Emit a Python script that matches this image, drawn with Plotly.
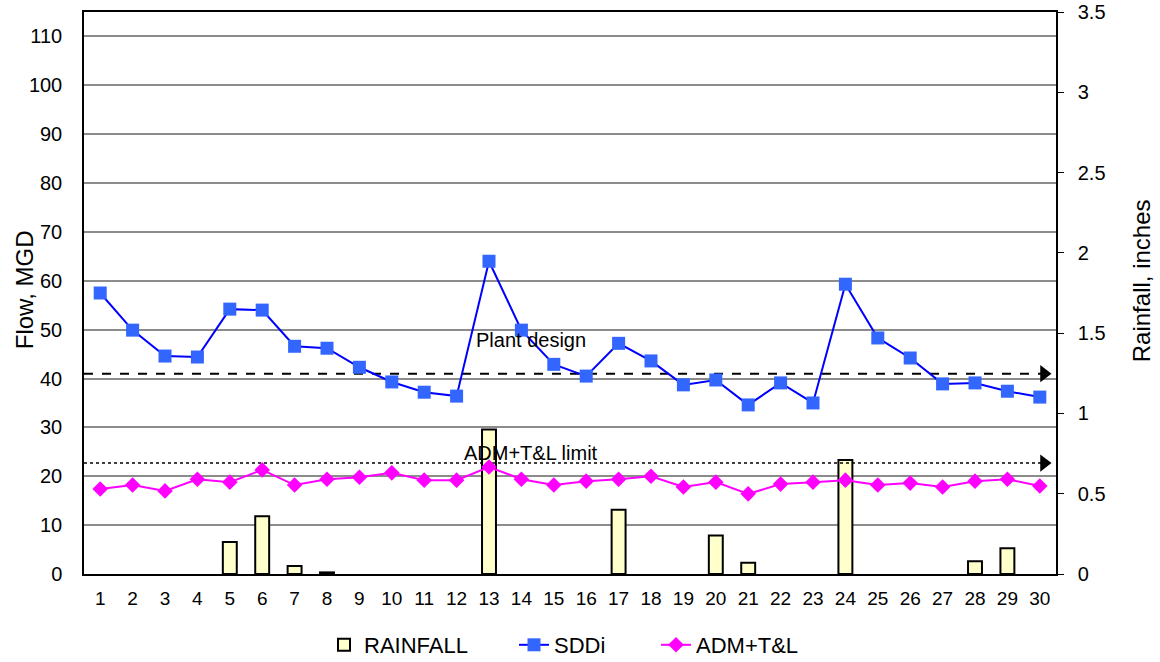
import plotly.graph_objects as go

days = list(range(1, 31))
sddi = [57.5, 49.9, 44.6, 44.4, 54.2, 54.0, 46.6, 46.2, 42.3, 39.3,
        37.2, 36.4, 64.0, 49.9, 42.9, 40.5, 47.2, 43.6, 38.7, 39.7,
        34.6, 39.1, 35.0, 59.3, 48.3, 44.2, 38.9, 39.1, 37.4, 36.2]
adm_tl = [17.4, 18.2, 17.0, 19.4, 18.8, 21.3, 18.2, 19.4, 19.8, 20.7,
          19.2, 19.2, 21.9, 19.4, 18.2, 19.0, 19.4, 20.0, 17.8, 18.8,
          16.4, 18.4, 18.8, 19.2, 18.2, 18.6, 17.8, 19.0, 19.4, 18.0]
rainfall = [0, 0, 0, 0, 0.20, 0.36, 0.05, 0.01, 0, 0,
            0, 0, 0.90, 0, 0, 0, 0.40, 0, 0, 0.24,
            0.07, 0, 0, 0.71, 0, 0, 0, 0.08, 0.16, 0]
plant_design = 41.0
adm_limit = 22.7
ref_x = [0.5, 30.05]
arrow_x = 30.13

FONT = "Liberation Sans, Arial, sans-serif"

fig = go.Figure()

fig.add_trace(go.Bar(
    x=days, y=[r if r > 0 else None for r in rainfall], name="RAINFALL", yaxis="y",
    width=0.43, legendwidth=145,
    marker=dict(color="#FFFFCC", line=dict(color="black", width=2)),
))

fig.add_trace(go.Scatter(
    x=ref_x, y=[plant_design] * 2, mode="lines", yaxis="y2", showlegend=False,
    line=dict(color="black", width=2, dash="dash"), hoverinfo="skip",
))
fig.add_trace(go.Scatter(
    x=ref_x, y=[adm_limit] * 2, mode="lines", yaxis="y2", showlegend=False,
    line=dict(color="black", width=1.5, dash="dot"), hoverinfo="skip",
))
fig.add_trace(go.Scatter(
    x=[arrow_x, arrow_x], y=[plant_design, adm_limit], mode="markers", yaxis="y2",
    showlegend=False, marker=dict(symbol="triangle-right", size=15, color="black"),
    hoverinfo="skip",
))

fig.add_trace(go.Scatter(
    x=days, y=sddi, name="SDDi", mode="lines+markers", yaxis="y2", legendwidth=97,
    line=dict(color="#0000FF", width=2),
    marker=dict(symbol="square", size=13, color="#3366FF"),
))
fig.add_trace(go.Scatter(
    x=days, y=adm_tl, name="ADM+T&L", mode="lines+markers", yaxis="y2", legendwidth=120,
    line=dict(color="#FF00FF", width=2),
    marker=dict(symbol="diamond", size=12, color="#FF00FF"),
))

fig.add_annotation(x=14.3, y=47.9, xref="x", yref="y2", text="Plant design",
                   showarrow=False, font=dict(size=20, color="black", family=FONT))
fig.add_annotation(x=14.3, y=24.7, xref="x", yref="y2", text="ADM+T&L limit",
                   showarrow=False, font=dict(size=20, color="black", family=FONT))

# axis titles
fig.add_annotation(x=-0.0617, y=0.505, xref="paper", yref="paper", text="Flow, MGD",
                   textangle=-90, showarrow=False, xanchor="center", yanchor="middle",
                   font=dict(size=24, color="black", family=FONT))
fig.add_annotation(x=1.0875, y=0.521, xref="paper", yref="paper", text="Rainfall, inches",
                   textangle=-90, showarrow=False, xanchor="center", yanchor="middle",
                   font=dict(size=24, color="black", family=FONT))

fig.update_layout(
    width=1160, height=662,
    margin=dict(l=84, r=104, t=12, b=88),
    plot_bgcolor="white", paper_bgcolor="white",
    font=dict(family=FONT, size=20, color="black"),
    xaxis=dict(range=[0.5, 30.5], tickmode="array", tickvals=days,
               ticktext=[str(d) for d in days], showgrid=False,
               showline=True, linecolor="black", linewidth=1.5,
               ticks="", ticklabelstandoff=6, mirror=True, zeroline=False,
               automargin=False, tickfont=dict(size=19)),
    yaxis=dict(range=[0, 3.5], side="right", dtick=0.5, showgrid=False,
               showline=True, linecolor="black", linewidth=1.5,
               ticks="outside", ticklen=6, tickcolor="black", ticklabelstandoff=10,
               zeroline=False, tickformat="~g", automargin=False,
               tickfont=dict(size=20)),
    yaxis2=dict(range=[0, 115], side="left", overlaying="y",
                tickvals=list(range(0, 111, 10)),
                showgrid=True, gridcolor="#8c8c8c", gridwidth=1.5,
                showline=True, linecolor="black", linewidth=1.5,
                ticks="", ticklabelstandoff=16, zeroline=False, automargin=False,
                tickfont=dict(size=20)),
    legend=dict(orientation="h", x=(324 - 84) / 972, xanchor="left",
                yref="container", y=(662 - 645) / 662, yanchor="middle",
                font=dict(size=22), traceorder="normal"),
    showlegend=True,
)

fig.write_html("out.html", config={"displayModeBar": False},
               post_script="document.body.style.margin='0';document.body.style.padding='0';")
